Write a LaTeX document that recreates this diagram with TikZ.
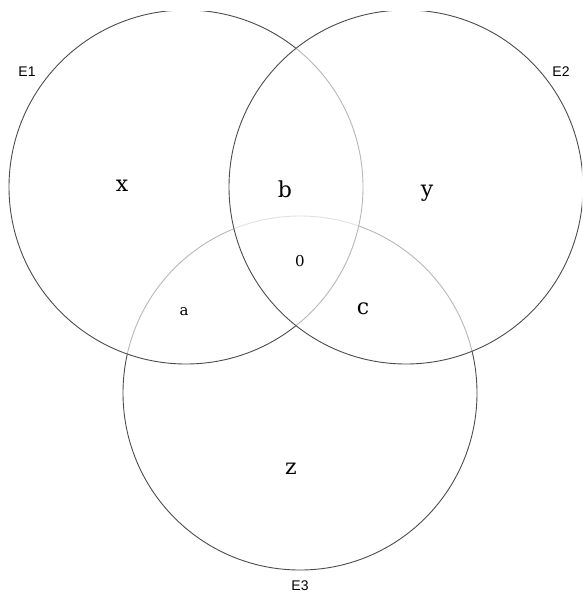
\documentclass[tikz,border=0pt]{standalone}
\usepackage{fontspec}
\setmainfont{DejaVu Serif}
\newfontfamily\labfont{Liberation Sans}
\begin{document}
\begin{tikzpicture}[x=1pt,y=-1pt,
  setcircle/.style={line width=0.9pt, draw=black!70},
  setname/.style={font=\labfont\fontsize{14}{16}\selectfont, inner sep=0pt},
  region/.style={font=\fontsize{22}{24}\selectfont, inner sep=0pt},
  smallregion/.style={font=\fontsize{15}{17}\selectfont, inner sep=0pt}]
\useasboundingbox (0,0) rectangle (582,594);
\begin{scope}
\clip (0,12) rectangle (582,594);
\draw[setcircle] (300,393) circle (177);
\draw[setcircle, fill=white, fill opacity=0.6] (186,187) circle (177);
\draw[setcircle, fill=white, fill opacity=0.6] (406,187) circle (177);
\end{scope}
\node[setname] (e1) at (27,72) {E1};
\node[setname] (e2) at (561,72) {E2};
\node[setname] (e3) at (300,586) {E3};
\node[region] (x) at (122,186) {x};
\node[region] (b) at (285,189) {b};
\node[region] (y) at (427,193) {y};
\node[region] (c) at (363,309) {c};
\node[region] (z) at (291,469) {z};
\node[smallregion] (a) at (184,312) {a};
\node[smallregion] (o) at (300,261) {0};
\end{tikzpicture}
\end{document}
